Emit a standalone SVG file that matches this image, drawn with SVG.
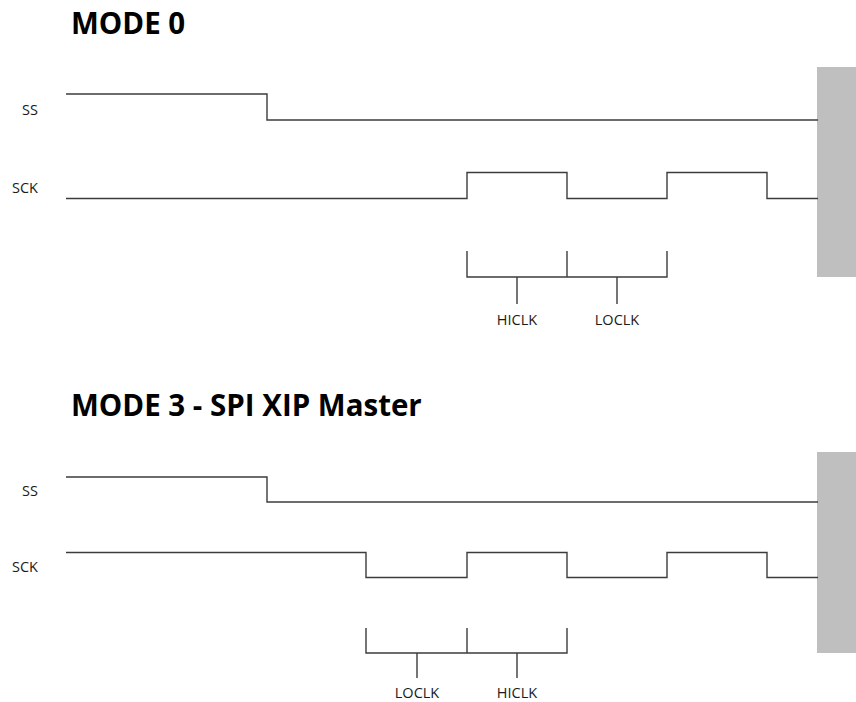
<svg xmlns="http://www.w3.org/2000/svg" width="856" height="702" viewBox="0 0 856 702">
<style>
.t{font-family:"Open Sans","Liberation Sans",sans-serif;font-weight:bold;font-size:29.5px;fill:#000}
.l{font-family:"Open Sans","Liberation Sans",sans-serif;font-size:14.5px;fill:#1a1a1a}
.w{fill:none;stroke:#3c3c3c;stroke-width:1.4}
.g{fill:#bfbfbf}
</style>
<rect width="856" height="702" fill="#fff"/>
<g id="mode0">
<text class="t" x="71" y="34">MODE 0</text>
<text class="l" x="38" y="115" text-anchor="end">SS</text>
<text class="l" x="38" y="193" text-anchor="end">SCK</text>
<rect class="g" x="817" y="67" width="39" height="210"/>
</g>
<g id="mode3">
<text class="t" x="71" y="416">MODE 3 - SPI XIP Master</text>
<text class="l" x="38" y="496" text-anchor="end">SS</text>
<text class="l" x="38" y="572" text-anchor="end">SCK</text>
<rect class="g" x="817" y="452" width="39" height="201"/>
</g>
<g id="connectors">
<path class="w" d="M66,94 H267 V120 H818"/>
<path class="w" d="M66,198.5 H467 V172.5 H567 V198.5 H667 V172.5 H767 V198.5 H818"/>
<path class="w" d="M467,251 V277 H667 V251 M567,251 V277 M517,277 V304 M617,277 V304"/>
<path class="w" d="M66,477 H267 V502 H818"/>
<path class="w" d="M66,552.5 H366 V577.5 H467 V552.5 H567 V577.5 H667 V552.5 H767 V577.5 H818"/>
<path class="w" d="M366,628 V653 H567 V628 M467,628 V653 M417,653 V678 M517,653 V678"/>
</g>
<g id="labels">
<text class="l" x="517" y="325" text-anchor="middle">HICLK</text>
<text class="l" x="617" y="325" text-anchor="middle">LOCLK</text>
<text class="l" x="417" y="698" text-anchor="middle">LOCLK</text>
<text class="l" x="517" y="698" text-anchor="middle">HICLK</text>
</g>
</svg>
